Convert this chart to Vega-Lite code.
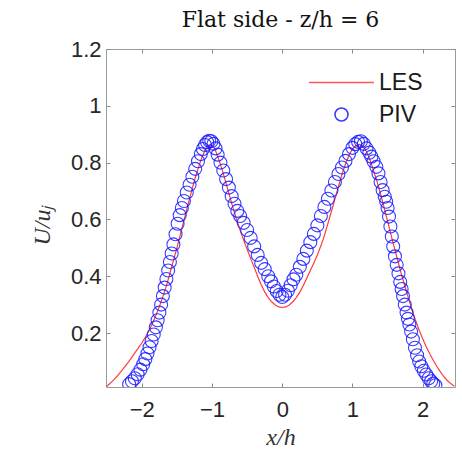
{
  "$schema": "https://vega.github.io/schema/vega-lite/v6.json",
  "width": 349,
  "height": 338,
  "autosize": {"type": "none"},
  "padding": {"left": 106, "top": 49, "right": 7, "bottom": 72},
  "background": "white",
  "title": {"text": "Flat side - z/h = 6", "font": "DejaVu Serif", "fontSize": 22, "fontWeight": "normal", "color": "#111111", "offset": 6, "anchor": "middle"},
  "config": {
    "view": {"stroke": null},
    "axis": {"grid": false, "domainColor": "#9a9a9a", "tickColor": "#8a8a8a", "domainWidth": 1, "tickWidth": 1, "labelColor": "#262626", "labelFont": "Liberation Sans", "labelFontSize": 22, "titleFont": "Liberation Serif", "titleFontStyle": "italic", "titleFontWeight": "normal", "titleFontSize": 24, "titleColor": "#333333"}
  },
  "data": {"values": [
    {"s":"LES","x":-2.50,"y":0.012},{"s":"LES","x":-2.45,"y":0.023},{"s":"LES","x":-2.40,"y":0.035},{"s":"LES","x":-2.35,"y":0.048},{"s":"LES","x":-2.30,"y":0.063},{"s":"LES","x":-2.25,"y":0.079},{"s":"LES","x":-2.20,"y":0.095},{"s":"LES","x":-2.15,"y":0.112},{"s":"LES","x":-2.10,"y":0.130},{"s":"LES","x":-2.05,"y":0.147},{"s":"LES","x":-2.00,"y":0.165},{"s":"LES","x":-1.95,"y":0.185},{"s":"LES","x":-1.90,"y":0.207},{"s":"LES","x":-1.85,"y":0.233},{"s":"LES","x":-1.80,"y":0.262},{"s":"LES","x":-1.75,"y":0.293},{"s":"LES","x":-1.70,"y":0.328},{"s":"LES","x":-1.65,"y":0.366},{"s":"LES","x":-1.60,"y":0.410},{"s":"LES","x":-1.55,"y":0.455},{"s":"LES","x":-1.50,"y":0.500},{"s":"LES","x":-1.45,"y":0.548},{"s":"LES","x":-1.40,"y":0.597},{"s":"LES","x":-1.35,"y":0.645},{"s":"LES","x":-1.30,"y":0.692},{"s":"LES","x":-1.25,"y":0.737},{"s":"LES","x":-1.20,"y":0.778},{"s":"LES","x":-1.15,"y":0.815},{"s":"LES","x":-1.10,"y":0.843},{"s":"LES","x":-1.06,"y":0.858},{"s":"LES","x":-1.03,"y":0.863},{"s":"LES","x":-1.00,"y":0.861},{"s":"LES","x":-0.97,"y":0.852},{"s":"LES","x":-0.94,"y":0.836},{"s":"LES","x":-0.90,"y":0.808},{"s":"LES","x":-0.85,"y":0.770},{"s":"LES","x":-0.80,"y":0.727},{"s":"LES","x":-0.75,"y":0.683},{"s":"LES","x":-0.70,"y":0.640},{"s":"LES","x":-0.65,"y":0.600},{"s":"LES","x":-0.60,"y":0.562},{"s":"LES","x":-0.55,"y":0.527},{"s":"LES","x":-0.50,"y":0.495},{"s":"LES","x":-0.45,"y":0.462},{"s":"LES","x":-0.40,"y":0.432},{"s":"LES","x":-0.35,"y":0.400},{"s":"LES","x":-0.30,"y":0.370},{"s":"LES","x":-0.25,"y":0.345},{"s":"LES","x":-0.20,"y":0.325},{"s":"LES","x":-0.15,"y":0.310},{"s":"LES","x":-0.10,"y":0.299},{"s":"LES","x":-0.05,"y":0.292},{"s":"LES","x":0.00,"y":0.290},{"s":"LES","x":0.05,"y":0.292},{"s":"LES","x":0.10,"y":0.299},{"s":"LES","x":0.15,"y":0.310},{"s":"LES","x":0.20,"y":0.325},{"s":"LES","x":0.25,"y":0.344},{"s":"LES","x":0.30,"y":0.367},{"s":"LES","x":0.35,"y":0.394},{"s":"LES","x":0.40,"y":0.420},{"s":"LES","x":0.45,"y":0.447},{"s":"LES","x":0.50,"y":0.475},{"s":"LES","x":0.55,"y":0.507},{"s":"LES","x":0.60,"y":0.543},{"s":"LES","x":0.65,"y":0.585},{"s":"LES","x":0.70,"y":0.628},{"s":"LES","x":0.75,"y":0.672},{"s":"LES","x":0.80,"y":0.716},{"s":"LES","x":0.85,"y":0.758},{"s":"LES","x":0.90,"y":0.795},{"s":"LES","x":0.95,"y":0.826},{"s":"LES","x":1.00,"y":0.848},{"s":"LES","x":1.05,"y":0.860},{"s":"LES","x":1.10,"y":0.864},{"s":"LES","x":1.14,"y":0.860},{"s":"LES","x":1.18,"y":0.848},{"s":"LES","x":1.22,"y":0.828},{"s":"LES","x":1.26,"y":0.802},{"s":"LES","x":1.30,"y":0.772},{"s":"LES","x":1.35,"y":0.733},{"s":"LES","x":1.40,"y":0.690},{"s":"LES","x":1.45,"y":0.642},{"s":"LES","x":1.50,"y":0.594},{"s":"LES","x":1.55,"y":0.545},{"s":"LES","x":1.60,"y":0.497},{"s":"LES","x":1.65,"y":0.450},{"s":"LES","x":1.70,"y":0.405},{"s":"LES","x":1.75,"y":0.362},{"s":"LES","x":1.80,"y":0.320},{"s":"LES","x":1.85,"y":0.280},{"s":"LES","x":1.90,"y":0.243},{"s":"LES","x":1.95,"y":0.210},{"s":"LES","x":2.00,"y":0.180},{"s":"LES","x":2.05,"y":0.152},{"s":"LES","x":2.10,"y":0.127},{"s":"LES","x":2.15,"y":0.104},{"s":"LES","x":2.20,"y":0.083},{"s":"LES","x":2.25,"y":0.064},{"s":"LES","x":2.30,"y":0.047},{"s":"LES","x":2.35,"y":0.033},{"s":"LES","x":2.40,"y":0.022},{"s":"LES","x":2.45,"y":0.013},
    {"s":"PIV","x":-2.18,"y":0.020},{"s":"PIV","x":-2.14,"y":0.030},{"s":"PIV","x":-2.10,"y":0.041},{"s":"PIV","x":-2.06,"y":0.055},{"s":"PIV","x":-2.02,"y":0.071},{"s":"PIV","x":-1.98,"y":0.090},{"s":"PIV","x":-1.95,"y":0.108},{"s":"PIV","x":-1.92,"y":0.128},{"s":"PIV","x":-1.89,"y":0.150},{"s":"PIV","x":-1.86,"y":0.172},{"s":"PIV","x":-1.83,"y":0.195},{"s":"PIV","x":-1.80,"y":0.220},{"s":"PIV","x":-1.775,"y":0.245},{"s":"PIV","x":-1.75,"y":0.272},{"s":"PIV","x":-1.725,"y":0.300},{"s":"PIV","x":-1.70,"y":0.330},{"s":"PIV","x":-1.675,"y":0.360},{"s":"PIV","x":-1.65,"y":0.390},{"s":"PIV","x":-1.625,"y":0.420},{"s":"PIV","x":-1.60,"y":0.450},{"s":"PIV","x":-1.575,"y":0.480},{"s":"PIV","x":-1.55,"y":0.512},{"s":"PIV","x":-1.52,"y":0.548},{"s":"PIV","x":-1.49,"y":0.585},{"s":"PIV","x":-1.46,"y":0.615},{"s":"PIV","x":-1.43,"y":0.640},{"s":"PIV","x":-1.40,"y":0.665},{"s":"PIV","x":-1.36,"y":0.695},{"s":"PIV","x":-1.32,"y":0.722},{"s":"PIV","x":-1.28,"y":0.750},{"s":"PIV","x":-1.24,"y":0.778},{"s":"PIV","x":-1.20,"y":0.805},{"s":"PIV","x":-1.16,"y":0.830},{"s":"PIV","x":-1.13,"y":0.848},{"s":"PIV","x":-1.10,"y":0.862},{"s":"PIV","x":-1.07,"y":0.872},{"s":"PIV","x":-1.04,"y":0.877},{"s":"PIV","x":-1.01,"y":0.875},{"s":"PIV","x":-0.98,"y":0.866},{"s":"PIV","x":-0.95,"y":0.850},{"s":"PIV","x":-0.92,"y":0.828},{"s":"PIV","x":-0.88,"y":0.800},{"s":"PIV","x":-0.84,"y":0.772},{"s":"PIV","x":-0.80,"y":0.742},{"s":"PIV","x":-0.76,"y":0.712},{"s":"PIV","x":-0.72,"y":0.682},{"s":"PIV","x":-0.68,"y":0.655},{"s":"PIV","x":-0.64,"y":0.630},{"s":"PIV","x":-0.60,"y":0.612},{"s":"PIV","x":-0.55,"y":0.588},{"s":"PIV","x":-0.50,"y":0.563},{"s":"PIV","x":-0.45,"y":0.535},{"s":"PIV","x":-0.40,"y":0.505},{"s":"PIV","x":-0.35,"y":0.475},{"s":"PIV","x":-0.30,"y":0.447},{"s":"PIV","x":-0.25,"y":0.425},{"s":"PIV","x":-0.20,"y":0.400},{"s":"PIV","x":-0.16,"y":0.382},{"s":"PIV","x":-0.12,"y":0.364},{"s":"PIV","x":-0.08,"y":0.348},{"s":"PIV","x":-0.04,"y":0.335},{"s":"PIV","x":0.00,"y":0.327},{"s":"PIV","x":0.04,"y":0.335},{"s":"PIV","x":0.08,"y":0.349},{"s":"PIV","x":0.12,"y":0.368},{"s":"PIV","x":0.16,"y":0.389},{"s":"PIV","x":0.20,"y":0.405},{"s":"PIV","x":0.25,"y":0.433},{"s":"PIV","x":0.30,"y":0.461},{"s":"PIV","x":0.35,"y":0.490},{"s":"PIV","x":0.40,"y":0.520},{"s":"PIV","x":0.45,"y":0.549},{"s":"PIV","x":0.50,"y":0.579},{"s":"PIV","x":0.55,"y":0.612},{"s":"PIV","x":0.60,"y":0.644},{"s":"PIV","x":0.65,"y":0.673},{"s":"PIV","x":0.70,"y":0.702},{"s":"PIV","x":0.75,"y":0.732},{"s":"PIV","x":0.80,"y":0.760},{"s":"PIV","x":0.85,"y":0.783},{"s":"PIV","x":0.90,"y":0.806},{"s":"PIV","x":0.95,"y":0.830},{"s":"PIV","x":1.00,"y":0.852},{"s":"PIV","x":1.04,"y":0.865},{"s":"PIV","x":1.08,"y":0.873},{"s":"PIV","x":1.12,"y":0.875},{"s":"PIV","x":1.16,"y":0.866},{"s":"PIV","x":1.20,"y":0.850},{"s":"PIV","x":1.24,"y":0.835},{"s":"PIV","x":1.27,"y":0.821},{"s":"PIV","x":1.30,"y":0.805},{"s":"PIV","x":1.34,"y":0.785},{"s":"PIV","x":1.37,"y":0.762},{"s":"PIV","x":1.40,"y":0.732},{"s":"PIV","x":1.43,"y":0.703},{"s":"PIV","x":1.46,"y":0.680},{"s":"PIV","x":1.48,"y":0.662},{"s":"PIV","x":1.50,"y":0.640},{"s":"PIV","x":1.52,"y":0.610},{"s":"PIV","x":1.54,"y":0.575},{"s":"PIV","x":1.56,"y":0.540},{"s":"PIV","x":1.58,"y":0.505},{"s":"PIV","x":1.605,"y":0.470},{"s":"PIV","x":1.63,"y":0.440},{"s":"PIV","x":1.655,"y":0.410},{"s":"PIV","x":1.68,"y":0.380},{"s":"PIV","x":1.70,"y":0.355},{"s":"PIV","x":1.72,"y":0.330},{"s":"PIV","x":1.745,"y":0.300},{"s":"PIV","x":1.77,"y":0.272},{"s":"PIV","x":1.79,"y":0.250},{"s":"PIV","x":1.81,"y":0.230},{"s":"PIV","x":1.835,"y":0.205},{"s":"PIV","x":1.86,"y":0.178},{"s":"PIV","x":1.89,"y":0.148},{"s":"PIV","x":1.92,"y":0.122},{"s":"PIV","x":1.95,"y":0.100},{"s":"PIV","x":1.98,"y":0.083},{"s":"PIV","x":2.015,"y":0.067},{"s":"PIV","x":2.05,"y":0.054},{"s":"PIV","x":2.085,"y":0.041},{"s":"PIV","x":2.12,"y":0.030},{"s":"PIV","x":2.15,"y":0.022},{"s":"PIV","x":2.18,"y":0.016}
  ]},
  "layer": [
    {
      "transform": [{"filter": "datum.s === 'LES'"}],
      "mark": {"type": "line", "strokeWidth": 1.2, "clip": true},
      "encoding": {
        "x": {"field": "x", "type": "quantitative", "scale": {"domain": [-2.51, 2.46], "nice": false, "zero": false},
              "axis": {"orient": "bottom", "title": "x/h", "values": [-2, -1, 0, 1, 2], "tickSize": -4, "labelPadding": 16, "titlePadding": 5, "labelFlush": false}},
        "y": {"field": "y", "type": "quantitative", "scale": {"domain": [0.01, 1.2], "nice": false, "zero": false},
              "axis": {"orient": "left", "title": "U/uⱼ", "format": "~g", "values": [0.2, 0.4, 0.6, 0.8, 1, 1.2], "tickSize": -4, "labelPadding": 9, "titlePadding": 16, "titleY": 176, "labelFlush": false}},
        "color": {"field": "s", "type": "nominal", "scale": {"domain": ["LES", "PIV"], "range": ["#ff3b3b", "#1a1aff"]},
                  "legend": {"title": null, "orient": "none", "legendX": 224, "legendY": 22, "padding": 0, "labelFont": "Liberation Sans", "labelFontSize": 23, "labelColor": "#1a1a1a", "symbolSize": 169, "symbolStrokeWidth": 1.6, "rowPadding": 8, "labelOffset": 26}}
      }
    },
    {
      "transform": [{"filter": "datum.s === 'PIV'"}],
      "mark": {"type": "point", "filled": false, "size": 169, "strokeWidth": 1.1, "opacity": 0.85, "clip": true},
      "encoding": {
        "x": {"field": "x", "type": "quantitative", "axis": {"orient": "top", "title": null, "labels": false, "values": [-2, -1, 0, 1, 2], "tickSize": -4}},
        "y": {"field": "y", "type": "quantitative", "axis": {"orient": "right", "title": null, "labels": false, "values": [0.2, 0.4, 0.6, 0.8, 1, 1.2], "tickSize": -4}},
        "color": {"field": "s", "type": "nominal"},
        "shape": {"field": "s", "type": "nominal", "scale": {"domain": ["LES", "PIV"], "range": ["M-5,0L5,0", "circle"]}}
      }
    }
  ],
  "resolve": {"axis": {"x": "independent", "y": "independent"}}
}
